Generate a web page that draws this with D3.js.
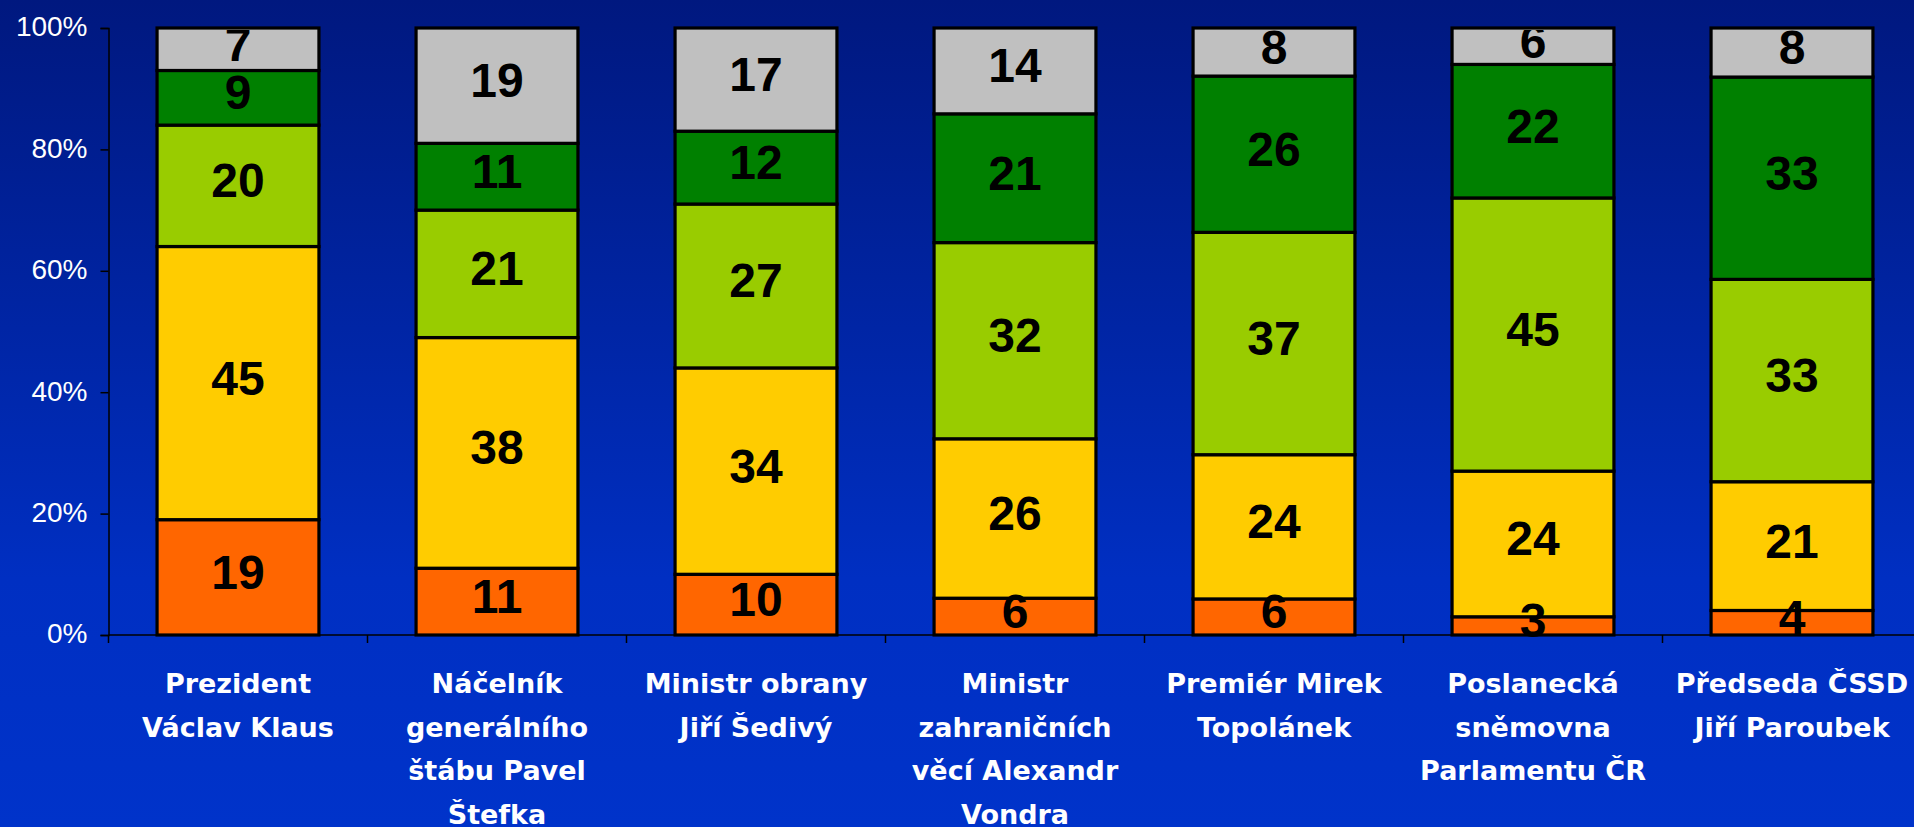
<!DOCTYPE html>
<html>
<head>
<meta charset="utf-8">
<script src="https://cdn.jsdelivr.net/npm/d3@7"></script>
<style>
  html, body { margin: 0; padding: 0; overflow: hidden; }
  svg { display: block; }
</style>
</head>
<body>
<div id="okvir"></div>
<script>
// kategorie (popisky osy x, zalomene na radky)
const kategorie = [
  "Prezident\nVáclav Klaus",
  "Náčelník\ngenerálního\nštábu Pavel\nŠtefka",
  "Ministr obrany\nJiří Šedivý",
  "Ministr\nzahraničních\nvěcí Alexandr\nVondra",
  "Premiér Mirek\nTopolánek",
  "Poslanecká\nsněmovna\nParlamentu ČR",
  "Předseda ČSSD\nJiří Paroubek"
];

// rady odspodu nahoru
const oranzova    = [19, 11, 10,  6,  6,  3,  4];
const zluta       = [45, 38, 34, 26, 24, 24, 21];
const svetleZelena= [20, 21, 27, 32, 37, 45, 33];
const zelena      = [ 9, 11, 12, 21, 26, 22, 33];
const seda        = [ 7, 19, 17, 14,  8,  6,  8];

const rady = ["oranzova", "zluta", "svetleZelena", "zelena", "seda"];
const barvy = ["#FF6600", "#FFCC00", "#99CC00", "#008000", "#C0C0C0"];
const osaY = [0, 0.2, 0.4, 0.6, 0.8, 1];

function crtajGraf() {
  const data = kategorie.map((k, i) => ({
    kat: k,
    oranzova: oranzova[i],
    zluta: zluta[i],
    svetleZelena: svetleZelena[i],
    zelena: zelena[i],
    seda: seda[i]
  }));

  const dim = {
    sirina: 1914,
    visina: 827,
    levo: 108.5,
    nahore: 28,
    dole: 635,
    krok: 259
  };

  const x = d3.scaleBand()
    .domain(kategorie)
    .range([dim.levo, dim.levo + dim.krok * kategorie.length])
    .paddingInner(0.375)
    .paddingOuter(0.1875);

  const y = d3.scaleLinear()
    .domain([0, 1])
    .range([dim.dole, dim.nahore]);

  const barva = d3.scaleOrdinal().domain(rady).range(barvy);

  const stack = d3.stack().keys(rady).offset(d3.stackOffsetExpand);
  const serie = stack(data);

  const svg = d3.select("#okvir").append("svg")
    .attr("width", dim.sirina)
    .attr("height", dim.visina);

  const defs = svg.append("defs");
  const grad = defs.append("linearGradient")
    .attr("id", "pozadi")
    .attr("x1", 0).attr("y1", 0).attr("x2", 0).attr("y2", 1);
  grad.append("stop").attr("offset", "0%").attr("stop-color", "#00187F");
  grad.append("stop").attr("offset", "70%").attr("stop-color", "#002FC2");
  grad.append("stop").attr("offset", "100%").attr("stop-color", "#0033CA");

  defs.append("clipPath").attr("id", "orez")
    .append("rect")
    .attr("x", 0).attr("y", dim.nahore + 2)
    .attr("width", dim.sirina).attr("height", dim.visina);

  svg.append("rect")
    .attr("width", dim.sirina)
    .attr("height", dim.visina)
    .attr("fill", "url(#pozadi)");

  // sloupce
  svg.append("g").selectAll("g")
    .data(serie)
    .join("g")
      .attr("fill", d => barva(d.key))
    .selectAll("rect")
    .data(d => d)
    .join("rect")
      .attr("x", d => x(d.data.kat))
      .attr("width", x.bandwidth())
      .attr("y", d => y(d[1]))
      .attr("height", d => y(d[0]) - y(d[1]))
      .attr("stroke", "#000")
      .attr("stroke-width", 3.2);

  // osa y
  const osaLeva = svg.append("g")
    .attr("transform", `translate(${dim.levo},0)`)
    .call(d3.axisLeft(y).tickValues(osaY).tickFormat(d3.format(".0%")).tickSize(8).tickPadding(13));
  osaLeva.select(".domain").attr("stroke", "#000").attr("stroke-width", 1.5);
  osaLeva.selectAll(".tick line").attr("stroke", "#000").attr("stroke-width", 1.5);
  osaLeva.selectAll(".tick text")
    .attr("fill", "#fff")
    .attr("font-family", "Liberation Sans, Arial, sans-serif")
    .attr("font-size", 28)
    .attr("dy", "0.28em");

  // osa x
  const hranice = d3.range(kategorie.length + 1).map(i => x.range()[0] + i * x.step());
  svg.append("line")
    .attr("x1", hranice[0]).attr("x2", hranice[hranice.length - 1])
    .attr("y1", dim.dole).attr("y2", dim.dole)
    .attr("stroke", "#000").attr("stroke-width", 1.5);
  svg.append("g").selectAll("line")
    .data(hranice)
    .join("line")
      .attr("x1", d => d).attr("x2", d => d)
      .attr("y1", dim.dole).attr("y2", dim.dole + 8)
      .attr("stroke", "#000").attr("stroke-width", 1.5);

  // popisky hodnot
  svg.append("g")
    .attr("clip-path", "url(#orez)")
    .selectAll("g")
    .data(serie)
    .join("g")
    .selectAll("text")
    .data(d => d.map((s, i) => ({ s, hodnota: data[i][d.key] })))
    .join("text")
      .attr("x", d => x(d.s.data.kat) + x.bandwidth() / 2)
      .attr("y", d => (y(d.s[0]) + y(d.s[1])) / 2 - 5)
      .attr("text-anchor", "middle")
      .attr("dominant-baseline", "central")
      .attr("font-family", "Liberation Sans, Arial, sans-serif")
      .attr("font-weight", "bold")
      .attr("font-size", 48)
      .attr("fill", "#000")
      .text(d => d.hodnota);

  // popisky kategorii
  svg.append("g").selectAll("text")
    .data(kategorie)
    .join("text")
      .attr("x", d => x(d) + x.bandwidth() / 2)
      .attr("y", 693)
      .attr("text-anchor", "middle")
      .attr("font-family", "DejaVu Sans, Verdana, sans-serif")
      .attr("font-weight", "bold")
      .attr("font-size", 27)
      .attr("fill", "#fff")
    .selectAll("tspan")
    .data(d => d.split("\n"))
    .join("tspan")
      .attr("x", function() { return this.parentNode.getAttribute("x"); })
      .attr("dy", (d, i) => i === 0 ? 0 : 43.5)
      .text(d => d);
}

crtajGraf();
</script>
</body>
</html>
